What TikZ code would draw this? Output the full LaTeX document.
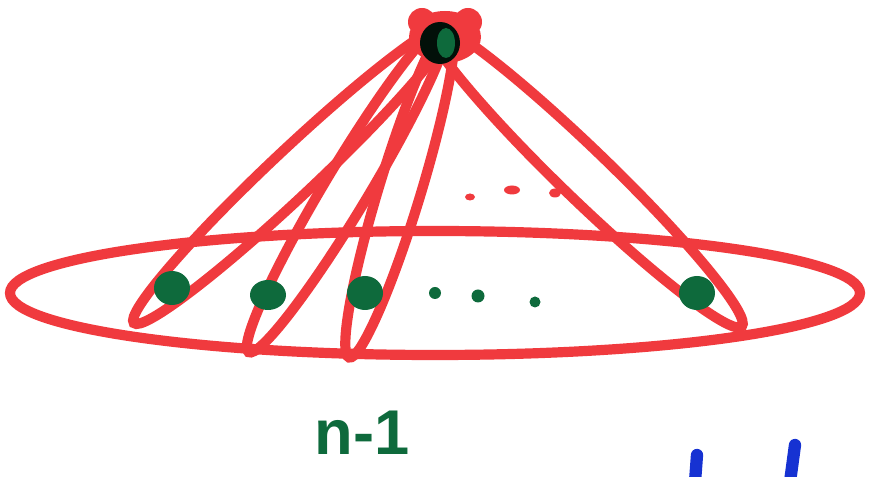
\documentclass[tikz,border=0pt]{standalone}
\usepackage{fontspec}
\setsansfont{Liberation Sans}
\definecolor{pen}{HTML}{F03A3E}
\definecolor{ink}{HTML}{0E6A3C}
\definecolor{blu}{HTML}{1632D2}
\tikzset{
  redline/.style={draw=pen,line width=5.8pt},
  gdot/.style={fill=ink},
  blueline/.style={draw=blu,line width=7pt,line cap=round},
}
\begin{document}
\begin{tikzpicture}[x=0.02cm,y=0.02cm]
\useasboundingbox (0,0) rectangle (877,477);
% big ellipse
\draw[redline] (435,184) ellipse [x radius=425, y radius=62];
% leaf loops
\draw[redline,rotate around={43.3:(292.5,303.5)}] (292.5,303.5) ellipse [x radius=218, y radius=23];
\draw[redline,rotate around={59:(347.5,289.5)}] (347.5,289.5) ellipse [x radius=192, y radius=22];
\draw[redline,rotate around={73.1:(400,287)}] (400,287) ellipse [x radius=175, y radius=21];
\draw[redline,rotate around={136:(585,302)}] (585,302) ellipse [x radius=218, y radius=25];
% apex blob and dot
\fill[pen] (445,440) ellipse [x radius=36, y radius=26];
\fill[pen] (422,455) circle [radius=14];
\fill[pen] (468,455) circle [radius=14];
\fill[black!85!ink] (440,434) ellipse [x radius=20, y radius=21];
\fill[ink] (446,434) ellipse [x radius=9, y radius=15];
% green vertices
\fill[gdot] (172,189) ellipse [x radius=18, y radius=17];
\fill[gdot] (268,182) ellipse [x radius=18, y radius=15];
\fill[gdot] (365,184) ellipse [x radius=18, y radius=17];
\fill[gdot] (697,184) ellipse [x radius=18, y radius=17];
% green dots
\fill[gdot] (435,184) circle [radius=6];
\fill[gdot] (478,181) circle [radius=6.5];
\fill[gdot] (535,175) circle [radius=5.5];
% red dots
\fill[pen] (470,280) ellipse [x radius=5, y radius=3.5];
\fill[pen] (512,287) ellipse [x radius=8, y radius=4.5];
\fill[pen] (555,284) ellipse [x radius=6, y radius=4.5];
% label
\node[text=ink,font=\sffamily\bfseries\fontsize{36}{36}\selectfont,anchor=south] (lab) at (362,16) {n-1};
% blue strokes
\coordinate (b1a) at (697,22);
\coordinate (b1b) at (695,-5);
\coordinate (b2a) at (795,32);
\coordinate (b2b) at (790,-5);
\draw[blueline] (b1a) -- (b1b);
\draw[blueline] (b2a) -- (b2b);
\end{tikzpicture}
\end{document}
